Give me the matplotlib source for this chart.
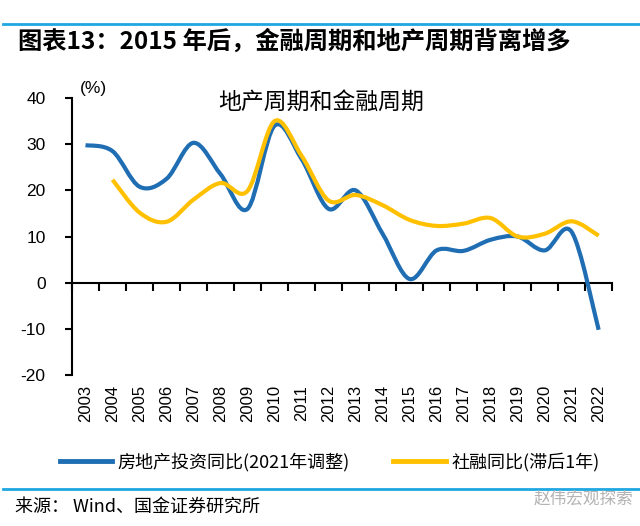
import numpy as np
import matplotlib.pyplot as plt
from matplotlib.path import Path
from matplotlib.patches import PathPatch
from matplotlib.lines import Line2D

plt.rcParams['font.family'] = ['Noto Sans CJK SC', 'DejaVu Sans']

years = [str(y) for y in range(2003, 2023)]
# 房地产投资同比 (%)
house = [29.8, 28.5, 20.8, 22.5, 30.3, 23.5, 16.0, 34.0, 26.8, 16.0,
         20.0, 10.6, 0.8, 7.0, 6.9, 9.3, 10.0, 7.0, 11.0, -10.2]
# 社融同比 (滞后1年), starts in 2004
tsf = [None, 22.3, 15.2, 13.2, 18.0, 21.6, 19.9, 35.0, 27.5, 17.8,
       19.0, 16.8, 13.6, 12.3, 12.8, 14.0, 10.0, 10.6, 13.3, 10.2]
yticks = [-20, -10, 0, 10, 20, 30, 40]

BLUE = '#1f6db3'
GOLD = '#ffc000'
CYAN = '#1ea7e1'


def smooth_path(xs, ys):
    # excel-like smoothed line: catmull-rom as cubic bezier segments
    p = np.column_stack([xs, ys]).astype(float)
    ext = np.vstack([p[0], p, p[-1]])
    verts = [p[0]]
    codes = [Path.MOVETO]
    for i in range(len(p) - 1):
        p0, p1, p2, p3 = ext[i], ext[i + 1], ext[i + 2], ext[i + 3]
        c1 = p1 + (p2 - p0) / 6.0
        c2 = p2 - (p3 - p1) / 6.0
        verts += [c1, c2, p2]
        codes += [Path.CURVE4] * 3
    return Path(verts, codes)


fig = plt.figure(figsize=(6.4, 5.26), dpi=100)
ax = fig.add_axes([0.1125, 0.287, 0.844, 0.5266])

x = np.arange(len(years))
ax.add_patch(PathPatch(smooth_path(x, house), facecolor='none', edgecolor=BLUE,
                       lw=3, capstyle='butt', zorder=3))
tx = [i for i, v in enumerate(tsf) if v is not None]
tv = [v for v in tsf if v is not None]
ax.add_patch(PathPatch(smooth_path(tx, tv), facecolor='none', edgecolor=GOLD,
                       lw=3, capstyle='butt', zorder=3))

ax.set_xlim(-0.5, len(years) - 0.5)
ax.set_ylim(-20, 40)
ax.set_yticks(yticks)
ax.set_yticklabels([str(t) for t in yticks], family='Liberation Sans', fontsize=12.5)
ax.set_xticks(np.arange(-0.5, len(years), 1))
ax.set_xticklabels([])

for s in ['top', 'right']:
    ax.spines[s].set_visible(False)
ax.spines['bottom'].set_position(('data', 0))
ax.spines['left'].set_linewidth(1.5)
ax.spines['bottom'].set_linewidth(1.5)
ax.tick_params(axis='x', direction='out', length=6, width=1.5)
ax.tick_params(axis='y', direction='out', length=5, width=1.5, pad=14)

for i, yr in enumerate(years):
    ax.text(i, -0.035, yr, transform=ax.get_xaxis_transform(), rotation=90,
            ha='center', va='top', family='Liberation Sans', fontsize=12)

ax.text(0.015, 1.035, '(%)', transform=ax.transAxes, family='Liberation Sans',
        fontsize=12.5, ha='left', va='center')
ax.text(0.461, 0.985, '地产周期和金融周期', transform=ax.transAxes, fontsize=16.5,
        ha='center', va='center')

# title bar
fig.add_artist(Line2D([0.005, 1.0], [1 - 24 / 526] * 2, color=CYAN, lw=2))
fig.text(18 / 640, 1 - 42 / 526, '图表13：2015 年后，金融周期和地产周期背离增多',
         fontsize=17.5, fontweight='bold', ha='left', va='center')

# legend
handles = [Line2D([], [], color=BLUE, lw=3.5), Line2D([], [], color=GOLD, lw=3.5)]
fig.legend(handles, ['房地产投资同比(2021年调整)', '社融同比(滞后1年)'],
           loc='center', bbox_to_anchor=(0.515, 1 - 462 / 526), ncol=2,
           frameon=False, fontsize=13, handlelength=2.9, handletextpad=0.3,
           columnspacing=2.4)

# source footer
fig.add_artist(Line2D([0.005, 1.0], [1 - 489 / 526] * 2, color=CYAN, lw=2))
fig.text(15 / 640, 1 - 507 / 526, '来源： Wind、国金证券研究所', fontsize=13,
         ha='left', va='center')
fig.text(0.99, 1 - 499 / 526, '赵伟宏观探索', fontsize=12, color='#b4b4b4',
         ha='right', va='center')

fig.savefig('out.png', dpi=100)
